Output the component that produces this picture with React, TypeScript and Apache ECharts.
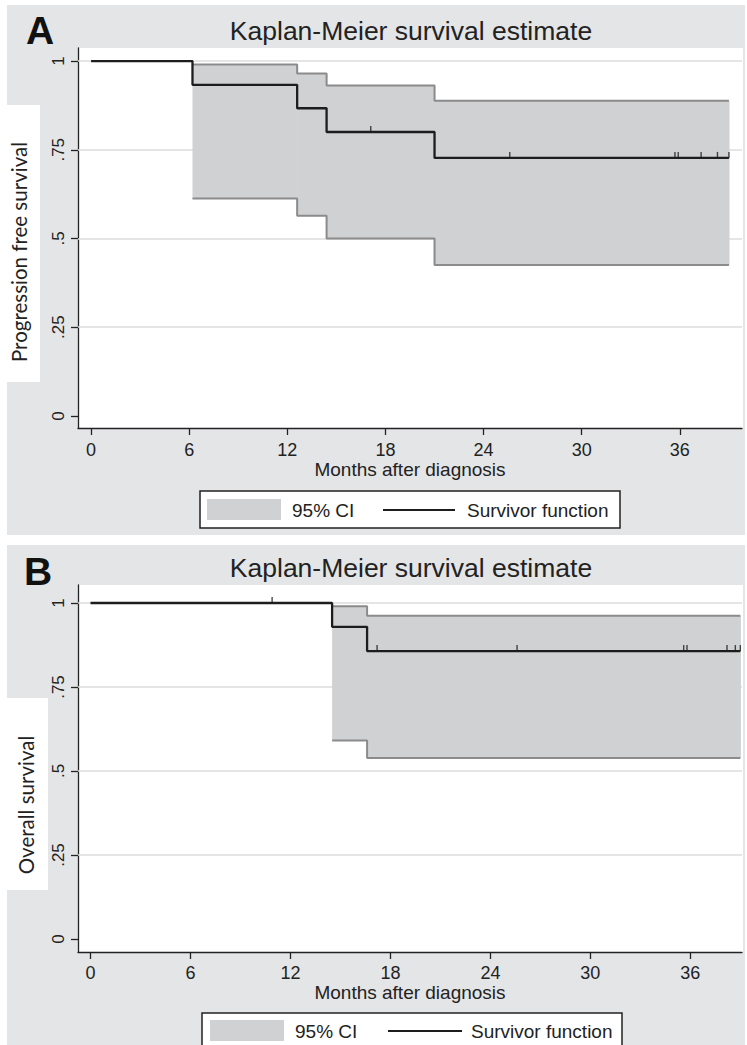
import React, { useEffect, useRef } from "react";
import * as echarts from "echarts";

// ---------- tick values / labels ----------
const xTickValues = [0, 6, 12, 18, 24, 30, 36];
const yTickValues = [0, 0.25, 0.5, 0.75, 1];
const yTickLabels = ["0", ".25", ".5", ".75", "1"];
const gridLineValues = [0.25, 0.5, 0.75, 1];

// ---------- texts ----------
const panelTitle = "Kaplan-Meier survival estimate";
const xAxisTitle = "Months after diagnosis";
const panelLetters = ["A", "B"];
const yAxisTitles = ["Progression free survival", "Overall survival"];
const legendLabels = ["95% CI", "Survivor function"];

// ---------- Panel A: progression free survival ----------
const pfsTimes = [0, 6.2, 12.6, 14.4, 21.0, 39.0];
const pfsSurvival = [1, 0.933, 0.867, 0.8, 0.727, 0.727];
const pfsCiTimes = [6.2, 12.6, 14.4, 21.0, 39.0];
const pfsCiLower = [0.613, 0.564, 0.5, 0.425, 0.425];
const pfsCiUpper = [0.99, 0.965, 0.931, 0.888, 0.888];
const pfsCensored = [17.1, 25.6, 35.7, 35.9, 37.3, 38.3, 39.0];

// ---------- Panel B: overall survival ----------
const osTimes = [0, 14.5, 16.6, 39.0];
const osSurvival = [1, 0.929, 0.857, 0.857];
const osCiTimes = [14.5, 16.6, 39.0];
const osCiLower = [0.591, 0.539, 0.539];
const osCiUpper = [0.99, 0.962, 0.962];
const osCensored = [10.9, 17.2, 25.6, 35.6, 35.8, 38.2, 38.7, 39.0];

const FONT = "'Liberation Sans', Arial, Helvetica, sans-serif";
const YT_FONT = "Lato, 'Open Sans', sans-serif";
const PANEL_BG = "#e4e5e7";
const CI_FILL = "#d0d1d3";
const CI_LINE = "#8b8b8b";
const KM_COLOR = "#1d1d1d";
const GRID_COLOR = "#dddddd";
const TEXT_COLOR = "#222222";

function survivalAt(times: number[], surv: number[], t: number) {
  let v = surv[0];
  for (let i = 0; i < times.length; i++) if (times[i] <= t) v = surv[i];
  return v;
}

const panelData = [
  { times: pfsTimes, surv: pfsSurvival, ciT: pfsCiTimes, lo: pfsCiLower, hi: pfsCiUpper, cens: pfsCensored },
  { times: osTimes, surv: osSurvival, ciT: osCiTimes, lo: osCiLower, hi: osCiUpper, cens: osCensored },
];

// layout (pixels)
const layout = [
  { bg: [7, 5, 738, 530], top: 48, height: 380, yMin: -0.0339, yMax: 1.0367, xMin: -0.8, xMax: 39.8,
    letter: [40, 30], title: [411, 31], ytBox: [7, 105, 33, 277], yt: [19, 252],
    nameGap: 31, labelMargin: 13,
    legend: { box: [200, 491, 420, 37], sw: [207, 499, 74, 21], cy: 510, t1: 292, line: [383, 455], t2: 467 } },
  { bg: [7, 545, 738, 500], top: 585, height: 367, yMin: -0.0387, yMax: 1.0536, xMin: -0.75, xMax: 39.1,
    letter: [38, 571], title: [411, 568], ytBox: [7, 698, 41, 192], yt: [26, 805],
    nameGap: 28, labelMargin: 12,
    legend: { box: [202, 1013, 420, 40], sw: [210, 1020, 74, 21], cy: 1031, t1: 295, line: [388, 462], t2: 471 } },
];

const PLOT_LEFT = 78;
const PLOT_WIDTH = 664;

export default function App() {
  const ref = useRef<HTMLDivElement>(null);

  useEffect(() => {
    if (!ref.current) return;
    const chart = echarts.init(ref.current, null, { renderer: "svg" });

    const grids: any[] = [];
    const xAxes: any[] = [];
    const yAxes: any[] = [];
    const series: any[] = [];
    const graphics: any[] = [];

    layout.forEach((L, i) => {
      const d = panelData[i];
      grids.push({ left: PLOT_LEFT, width: PLOT_WIDTH, top: L.top, height: L.height, containLabel: false });
      xAxes.push({
        type: "value", gridIndex: i, min: L.xMin, max: L.xMax,
        axisLine: { show: true, onZero: false, lineStyle: { color: TEXT_COLOR, width: 1.3 } },
        axisTick: { show: true, customValues: xTickValues, length: 7, lineStyle: { color: TEXT_COLOR, width: 1.3 } },
        axisLabel: { customValues: xTickValues, fontFamily: FONT, fontSize: 18, color: TEXT_COLOR, margin: L.labelMargin },
        splitLine: { show: false },
        name: xAxisTitle, nameLocation: "middle", nameGap: L.nameGap,
        nameTextStyle: { fontFamily: FONT, fontSize: 19, color: TEXT_COLOR },
      });
      yAxes.push({
        type: "value", gridIndex: i, min: L.yMin, max: L.yMax,
        axisLine: { show: true, onZero: false, lineStyle: { color: TEXT_COLOR, width: 1.3 } },
        axisTick: { show: true, customValues: yTickValues, length: 7, lineStyle: { color: TEXT_COLOR, width: 1.3 } },
        axisLabel: {
          customValues: yTickValues, rotate: 90, fontFamily: FONT, fontSize: 17, color: TEXT_COLOR, margin: 11,
          formatter: (v: number) => {
            const k = yTickValues.findIndex((t) => Math.abs(t - v) < 1e-6);
            return k >= 0 ? yTickLabels[k] : "";
          },
        },
        splitLine: { show: false },
      });

      const ax = { xAxisIndex: i, yAxisIndex: i };
      // confidence band: one rectangle per interval between successive CI times
      const bandData = d.ciT.slice(0, -1).map((t, k) => [t, d.ciT[k + 1], d.lo[k], d.hi[k]]);
      series.push({
        ...ax, type: "custom", silent: true, z: 2,
        encode: { x: [0, 1], y: [2, 3] },
        data: bandData,
        renderItem: (params: any, api: any) => {
          const p0 = api.coord([api.value(0), api.value(3)]);
          const p1 = api.coord([api.value(1), api.value(2)]);
          return {
            type: "rect",
            shape: { x: p0[0], y: p0[1], width: p1[0] - p0[0] + 0.6, height: p1[1] - p0[1] },
            style: { fill: CI_FILL },
          };
        },
        markLine: {
          silent: true, symbol: ["none", "none"], z: 1, label: { show: false },
          lineStyle: { color: GRID_COLOR, width: 1.5, type: "solid" },
          data: gridLineValues.map((v) => ({ yAxis: v })),
        },
      });
      series.push({
        ...ax, type: "line", step: "end", symbol: "none", silent: true, z: 3,
        lineStyle: { color: CI_LINE, width: 2 },
        data: d.ciT.map((t, k) => [t, d.hi[k]]),
      });
      series.push({
        ...ax, type: "line", step: "end", symbol: "none", silent: true, z: 3,
        lineStyle: { color: CI_LINE, width: 2 },
        data: d.ciT.map((t, k) => [t, d.lo[k]]),
      });
      series.push({
        ...ax, type: "line", step: "end", symbol: "none", silent: true, z: 4,
        lineStyle: { color: KM_COLOR, width: 2.3 },
        data: d.times.map((t, k) => [t, d.surv[k]]),
      });
      series.push({
        ...ax, type: "scatter", silent: true, z: 5,
        symbol: "rect", symbolSize: [1.4, 6], symbolOffset: [0, -3],
        itemStyle: { color: KM_COLOR },
        data: d.cens.map((t) => [t, survivalAt(d.times, d.surv, t)]),
      });

      // backgrounds
      graphics.push({ type: "rect", z: -20, silent: true, shape: { x: L.bg[0], y: L.bg[1], width: L.bg[2], height: L.bg[3] }, style: { fill: PANEL_BG } });
      graphics.push({ type: "rect", z: -19, silent: true, shape: { x: PLOT_LEFT, y: L.top, width: PLOT_WIDTH + 1, height: L.height }, style: { fill: "#ffffff" } });
      graphics.push({ type: "rect", z: -19, silent: true, shape: { x: L.ytBox[0], y: L.ytBox[1], width: L.ytBox[2], height: L.ytBox[3] }, style: { fill: "#ffffff" } });
      // letter & title
      graphics.push({ type: "text", z: 10, x: L.letter[0], y: L.letter[1], style: { text: panelLetters[i], fontFamily: FONT, fontWeight: "bold", fontSize: 39, fill: "#111", textAlign: "center", textVerticalAlign: "middle" } });
      graphics.push({ type: "text", z: 10, x: L.title[0], y: L.title[1], style: { text: panelTitle, fontFamily: FONT, fontSize: 26.5, fill: TEXT_COLOR, textAlign: "center", textVerticalAlign: "middle" } });
      // y axis title
      graphics.push({ type: "text", z: 10, x: L.yt[0], y: L.yt[1], rotation: Math.PI / 2, style: { text: yAxisTitles[i], fontFamily: YT_FONT, fontSize: 20.5, fill: TEXT_COLOR, textAlign: "center", textVerticalAlign: "middle" } });
      // legend
      const lg = L.legend;
      graphics.push({ type: "rect", z: 10, shape: { x: lg.box[0], y: lg.box[1], width: lg.box[2], height: lg.box[3] }, style: { fill: "#ffffff", stroke: "#222", lineWidth: 1.5 } });
      graphics.push({ type: "rect", z: 11, shape: { x: lg.sw[0], y: lg.sw[1], width: lg.sw[2], height: lg.sw[3] }, style: { fill: CI_FILL } });
      graphics.push({ type: "text", z: 11, x: lg.t1, y: lg.cy, style: { text: legendLabels[0], fontFamily: FONT, fontSize: 19, fill: TEXT_COLOR, textAlign: "left", textVerticalAlign: "middle" } });
      graphics.push({ type: "line", z: 11, shape: { x1: lg.line[0], y1: lg.cy, x2: lg.line[1], y2: lg.cy }, style: { stroke: KM_COLOR, lineWidth: 2 } });
      graphics.push({ type: "text", z: 11, x: lg.t2, y: lg.cy, style: { text: legendLabels[1], fontFamily: FONT, fontSize: 19, fill: TEXT_COLOR, textAlign: "left", textVerticalAlign: "middle" } });
    });

    chart.setOption({
      animation: false,
      backgroundColor: "#ffffff",
      grid: grids,
      xAxis: xAxes,
      yAxis: yAxes,
      series,
      graphic: { elements: graphics },
    });

    return () => chart.dispose();
  }, []);

  return (
    <div
      ref={ref}
      style={{ position: "absolute", left: 0, top: 0, width: 747, height: 1045 }}
    />
  );
}
